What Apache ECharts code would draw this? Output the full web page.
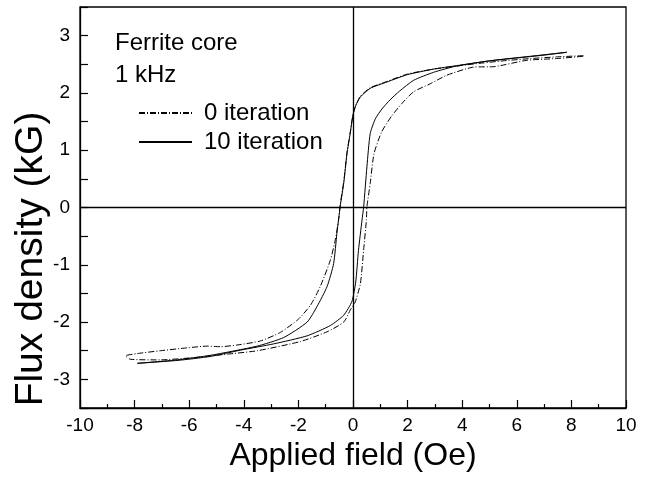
<!DOCTYPE html>
<html>
<head>
<meta charset="utf-8">
<script src="https://cdn.jsdelivr.net/npm/echarts@6/dist/echarts.min.js"></script>
<style>
  html, body { margin: 0; padding: 0; background: #fff; }
  #loop { width: 650px; height: 477px; }
</style>
</head>
<body>
<div id="loop"></div>
<script>
// hysteresis loops, field in Oe, flux in kG
const iter10Field = [7.83, 7, 6, 5, 4, 3, 2, 1.24, 0.63, 0.27, 0.1, 0, -0.1, -0.22, -0.34, -0.46, -0.53, -0.59, -0.71, -0.95, -1.32, -1.68, -2.54, -3.51, -5.22, -6.44, -7.9,
  -6.44, -5.22, -4.12, -2.9, -1.68, -0.83, -0.34, -0.04, 0.1, 0.2, 0.33, 0.39, 0.51, 0.63, 0.82, 1.06, 1.36, 1.7, 2.22, 2.95, 3.8, 5, 6.5, 7.83]
const iter10Flux = [2.71, 2.66, 2.61, 2.56, 2.49, 2.42, 2.32, 2.19, 2.08, 1.93, 1.78, 1.62, 1.3, 0.94, 0.42, 0.05, -0.22, -0.45, -0.98, -1.38, -1.73, -2.0, -2.27, -2.42, -2.58, -2.66, -2.72,
  -2.67, -2.6, -2.49, -2.38, -2.24, -2.06, -1.88, -1.64, -1.3, -0.75, -0.22, 0.01, 0.71, 1.29, 1.55, 1.72, 1.88, 2.03, 2.22, 2.36, 2.47, 2.56, 2.64, 2.71]

const iter0Field = [8.44, 7.5, 6.5, 5.5, 4.5, 4, 3, 2, 1.24, 0.63, 0.27, 0.1, 0, -0.1, -0.22, -0.34, -0.46, -0.53, -0.65, -0.83, -1.2, -1.55, -2.0, -2.66, -3.39, -4.24, -4.86, -5.34, -6.07, -7.05, -7.9, -8.33,
  -8.15, -7.05, -5.83, -4.61, -3.5, -1.93, -0.95, -0.34, -0.1, 0.08, 0.27, 0.39, 0.49, 0.51, 0.63, 0.77, 1.05, 1.42, 1.8, 2.22, 2.83, 3.44, 4.41, 5.2, 6.37, 7.46, 8.44]
const iter0Flux = [2.65, 2.63, 2.6, 2.56, 2.51, 2.48, 2.42, 2.33, 2.2, 2.09, 1.94, 1.78, 1.62, 1.32, 0.96, 0.45, 0.08, -0.22, -0.57, -0.92, -1.38, -1.7, -1.95, -2.18, -2.33, -2.4, -2.43, -2.42, -2.45, -2.5, -2.55, -2.59,
  -2.65, -2.66, -2.62, -2.56, -2.5, -2.34, -2.17, -2.0, -1.79, -1.65, -1.33, -0.74, -0.22, 0.01, 0.42, 0.94, 1.32, 1.6, 1.82, 2.02, 2.16, 2.31, 2.45, 2.46, 2.57, 2.6, 2.64]

const seriesNames = ['0 iteration', '10 iteration']
const noteLines = ['Ferrite core', '1 kHz']

const zip = (xs, ys) => xs.map((x, i) => [x, ys[i]])

const chart = echarts.init(document.getElementById('loop'), null, { renderer: 'canvas' })

const axisCommon = {
  axisLine: { onZero: false, lineStyle: { color: '#000', width: 1.3 } },
  axisTick: { inside: true, length: 8, lineStyle: { color: '#000', width: 1.2 } },
  minorTick: { show: true, splitNumber: 2, length: 4, lineStyle: { color: '#000', width: 1.2 } },
  splitLine: { show: false },
  axisLabel: { color: '#000', fontSize: 19, fontFamily: 'Liberation Sans, Arial, sans-serif' }
}

chart.setOption({
  animation: false,
  backgroundColor: '#fff',
  grid: {
    left: 80, right: 24, top: 7, bottom: 69,
    show: true, borderColor: '#000', borderWidth: 1.3
  },
  xAxis: Object.assign({}, axisCommon, {
    type: 'value', min: -10, max: 10, interval: 2,
    name: 'Applied field (Oe)',
    nameLocation: 'middle',
    nameGap: 31,
    nameTextStyle: { color: '#000', fontSize: 32, fontFamily: 'Liberation Sans, Arial, sans-serif' },
    axisLabel: Object.assign({}, axisCommon.axisLabel, { margin: 8 })
  }),
  yAxis: Object.assign({}, axisCommon, {
    type: 'value', min: -3.5, max: 3.5, interval: 0.5,
    axisTick: Object.assign({}, axisCommon.axisTick, { interval: 0 }),
    minorTick: { show: false },
    axisLabel: Object.assign({}, axisCommon.axisLabel, {
      margin: 10,
      formatter: v => (Number.isInteger(v) ? String(v) : '')
    })
  }),
  legend: {
    orient: 'vertical',
    left: 133,
    top: 96,
    itemWidth: 53,
    itemHeight: 14,
    itemGap: 5,
    itemStyle: { opacity: 0 },
    textStyle: { color: '#000', fontSize: 24, fontFamily: 'Liberation Sans, Arial, sans-serif', padding: [0, 0, 0, 7] },
    data: seriesNames
  },
  graphic: [
    {
      type: 'text', left: 115, top: 31,
      style: { text: noteLines[0], fill: '#000', font: '24px "Liberation Sans", Arial, sans-serif' }
    },
    {
      type: 'text', left: 115, top: 63,
      style: { text: noteLines[1], fill: '#000', font: '24px "Liberation Sans", Arial, sans-serif' }
    },
    {
      type: 'text', x: 31, y: 259, rotation: Math.PI / 2,
      style: {
        text: 'Flux density (kG)', fill: '#000', align: 'center', verticalAlign: 'middle',
        font: '39px "Liberation Sans", Arial, sans-serif'
      }
    }
  ],
  series: [
    {
      name: seriesNames[0],
      type: 'line',
      data: zip(iter0Field, iter0Flux),
      symbol: 'none',
      smooth: 0.2,
      lineStyle: { color: '#000', width: 1, type: [6, 2, 1, 2] },
      itemStyle: { color: '#000' },
      markLine: {
        silent: true,
        symbol: 'none',
        label: { show: false },
        lineStyle: { color: '#000', width: 1.3, type: 'solid' },
        data: [{ xAxis: 0 }, { yAxis: 0 }]
      }
    },
    {
      name: seriesNames[1],
      type: 'line',
      data: zip(iter10Field, iter10Flux),
      symbol: 'none',
      smooth: 0.2,
      lineStyle: { color: '#000', width: 1 },
      itemStyle: { color: '#000' }
    }
  ]
})
</script>
</body>
</html>
